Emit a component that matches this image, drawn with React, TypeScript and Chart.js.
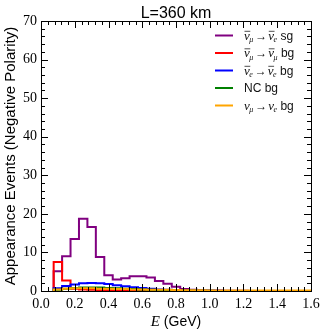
import React, { useEffect, useRef } from "react";
import { Chart, registerables } from "chart.js";
Chart.register(...registerables);

// Bin edges (GeV)
const binEdges = [
  0.075, 0.125, 0.175, 0.225, 0.275, 0.325, 0.375, 0.425, 0.475, 0.525,
  0.575, 0.625, 0.675, 0.725, 0.775, 0.825, 0.875, 0.925, 0.975, 1.025,
  1.075, 1.125, 1.175, 1.225, 1.275, 1.325, 1.375, 1.425, 1.475, 1.525,
  1.575, 1.625,
];

// Series values per bin
const sigMuBarEBar = [5.1, 9.0, 13.5, 18.7, 16.6, 8.8, 4.1, 3.0, 3.3, 3.8, 3.8, 3.5, 2.6, 1.9, 1.1, 0.5, 0.3, 0.2, 0.1, 0.1, 0.05, 0.05, 0.05, 0, 0, 0, 0, 0, 0, 0, 0];
const bgMuBarMuBar = [7.5, 2.7, 0.6, 0.4, 0.3, 0.2, 0.2, 0.1, 0.1, 0.1, 0.1, 0.05, 0.05, 0.05, 0.05, 0, 0, 0, 0, 0, 0, 0, 0, 0, 0, 0, 0, 0, 0, 0, 0];
const bgEBarEBar = [0.7, 1.3, 1.7, 2.0, 2.1, 2.0, 1.8, 1.5, 1.2, 1.0, 0.8, 0.6, 0.4, 0.3, 0.2, 0.15, 0.1, 0.1, 0.05, 0.05, 0, 0, 0, 0, 0, 0, 0, 0, 0, 0, 0];
const bgNC = [0.3, 0.6, 0.8, 0.9, 0.9, 0.9, 0.8, 0.7, 0.6, 0.5, 0.4, 0.3, 0.25, 0.2, 0.15, 0.1, 0.1, 0.05, 0.05, 0, 0, 0, 0, 0, 0, 0, 0, 0, 0, 0, 0];
const bgMuE = [0.4, 0.6, 0.7, 0.7, 0.7, 0.6, 0.6, 0.5, 0.5, 0.4, 0.4, 0.35, 0.3, 0.3, 0.25, 0.2, 0.2, 0.2, 0.15, 0.15, 0.15, 0.1, 0.1, 0.1, 0.1, 0.1, 0.1, 0.1, 0.1, 0.1, 0.1];

const seriesColors = ["#800080", "#ff0000", "#0000ff", "#008000", "#ffa500"];
const seriesValues = [sigMuBarEBar, bgMuBarMuBar, bgEBarEBar, bgNC, bgMuE];
// legend labels: [nu1 sub, nu1 bar, nu2 sub, nu2 bar, suffix]; string => plain text
const legendLabels: any[] = [
  ["μ", true, "e", true, "sg"],
  ["μ", true, "μ", true, "bg"],
  ["e", true, "e", true, "bg"],
  "NC bg",
  ["μ", false, "e", false, "bg"],
];

const titleText = "L=360 km";
const yTitle = "Appearance Events (Negative Polarity)";
const xMin = 0, xMax = 1.6, xStep = 0.2;
const yMin = 0, yMax = 70, yStep = 10;

function histPoints(values: number[]) {
  const pts = [{ x: binEdges[0], y: 0 }];
  values.forEach((v, i) => pts.push({ x: binEdges[i], y: v }));
  pts.push({ x: binEdges[values.length], y: values[values.length - 1] });
  return pts;
}

const SANS = "'Liberation Sans', Arial, sans-serif";
const SERIF = "'Liberation Serif', 'Times New Roman', serif";

const decorPlugin = {
  id: "decor",
  afterDraw(chart: any) {
    const { ctx, chartArea: a, scales } = chart;
    const xs = scales.x, ys = scales.y;
    ctx.save();
    ctx.strokeStyle = "#000";
    ctx.lineWidth = 1;
    // ticks
    ctx.beginPath();
    for (let i = 0; i <= 40; i++) {
      const v = i * 0.04;
      const px = Math.round(xs.getPixelForValue(v)) + 0.5;
      const len = i % 5 === 0 ? 7 : 4;
      ctx.moveTo(px, a.bottom); ctx.lineTo(px, a.bottom - len);
      ctx.moveTo(px, a.top); ctx.lineTo(px, a.top + len);
    }
    for (let i = 0; i <= 35; i++) {
      const v = i * 2;
      const py = Math.round(ys.getPixelForValue(v)) + 0.5;
      const len = i % 5 === 0 ? 7 : 4;
      ctx.moveTo(a.left, py); ctx.lineTo(a.left + len, py);
      ctx.moveTo(a.right, py); ctx.lineTo(a.right - len, py);
    }
    ctx.stroke();
    ctx.strokeRect(Math.round(a.left) + 0.5, Math.round(a.top) + 0.5, Math.round(a.right - a.left), Math.round(a.bottom - a.top));

    // title
    ctx.fillStyle = "#000";
    ctx.font = `16px ${SANS}`;
    ctx.textAlign = "center";
    ctx.textBaseline = "alphabetic";
    ctx.fillText(titleText, (a.left + a.right) / 2, 18);

    // x title: italic E + (GeV)
    ctx.textAlign = "left";
    const eFont = `italic 15px ${SERIF}`;
    const gFont = `14px ${SANS}`;
    ctx.font = eFont;
    const wE = ctx.measureText("E").width;
    ctx.font = gFont;
    const wG = ctx.measureText(" (GeV)").width;
    const x0 = (a.left + a.right) / 2 - (wE + wG) / 2;
    const by = 326;
    ctx.font = eFont;
    ctx.fillText("E", x0, by);
    ctx.font = gFont;
    ctx.fillText(" (GeV)", x0 + wE, by);

    // legend
    const nuFont = `italic 13px ${SERIF}`;
    const subFont = `italic 8px ${SERIF}`;
    const drawNu = (x: number, y: number, sub: string, bar: boolean) => {
      ctx.font = nuFont;
      const w = ctx.measureText("ν").width;
      ctx.fillText("ν", x, y);
      if (bar) {
        ctx.save();
        ctx.lineWidth = 0.8;
        ctx.strokeStyle = "#222";
        ctx.beginPath();
        ctx.moveTo(x + 0.5, y - 8.2);
        ctx.lineTo(x + w + 0.5, y - 8.2);
        ctx.stroke();
        ctx.restore();
      }
      ctx.font = subFont;
      ctx.fillText(sub, x + w - 0.5, y + 2.5);
      return x + w - 0.5 + ctx.measureText(sub).width;
    };
    legendLabels.forEach((lab, i) => {
      const ly = 35.5 + i * 17.5;
      ctx.strokeStyle = seriesColors[i];
      ctx.lineWidth = 2;
      ctx.beginPath();
      ctx.moveTo(215, ly);
      ctx.lineTo(233, ly);
      ctx.stroke();
      ctx.fillStyle = "#111";
      const ty = ly + 4;
      let tx = 244;
      if (typeof lab === "string") {
        ctx.font = `12px ${SANS}`;
        ctx.fillText(lab, tx, ty);
      } else {
        tx = drawNu(tx, ty, lab[0], lab[1]);
        ctx.font = `12px ${SERIF}`;
        ctx.fillText("→", tx + 2, ty);
        tx += 2 + ctx.measureText("→").width + 1;
        tx = drawNu(tx, ty, lab[2], lab[3]);
        ctx.font = `12px ${SANS}`;
        ctx.fillText(" " + lab[4], tx, ty);
      }
    });
    ctx.restore();
  },
};

export default function App() {
  const ref = useRef<HTMLCanvasElement>(null);
  useEffect(() => {
    if (!ref.current) return;
    const datasets = seriesValues.map((vals, i) => ({
      data: histPoints(vals),
      borderColor: seriesColors[i],
      backgroundColor: seriesColors[i],
      borderWidth: 2,
      stepped: "before" as const,
      pointRadius: 0,
      fill: false,
      order: 5 - i,
    }));
    const chart = new Chart(ref.current, {
      type: "line",
      data: { datasets },
      options: {
        animation: false,
        responsive: false,
        devicePixelRatio: 1,
        layout: { padding: { top: 21, right: 16, left: 0, bottom: 0 } },
        plugins: { legend: { display: false }, title: { display: false }, tooltip: { enabled: false } },
        scales: {
          x: {
            type: "linear",
            min: xMin,
            max: xMax,
            grid: { display: false, drawTicks: false },
            border: { display: false },
            ticks: {
              stepSize: xStep,
              padding: 5,
              color: "#000",
              font: { family: SERIF, size: 14 },
              maxRotation: 0,
              callback: (v: any) => Number(v).toFixed(1),
            },
            afterFit: (s: any) => { s.height = 43; },
          },
          y: {
            type: "linear",
            min: yMin,
            max: yMax,
            grid: { display: false, drawTicks: false },
            border: { display: false },
            ticks: {
              stepSize: yStep,
              padding: 4,
              color: "#000",
              font: { family: SERIF, size: 14 },
            },
            title: {
              display: true,
              text: yTitle,
              color: "#000",
              font: { family: SANS, size: 15 },
              padding: { top: 2, bottom: 0 },
            },
            afterFit: (s: any) => { s.width = 41; },
          },
        },
      },
      plugins: [decorPlugin],
    });
    return () => chart.destroy();
  }, []);
  return (
    <div style={{ position: "absolute", left: 0, top: 0, width: 327, height: 334, background: "#fff" }}>
      <canvas ref={ref} width={327} height={334} />
    </div>
  );
}
